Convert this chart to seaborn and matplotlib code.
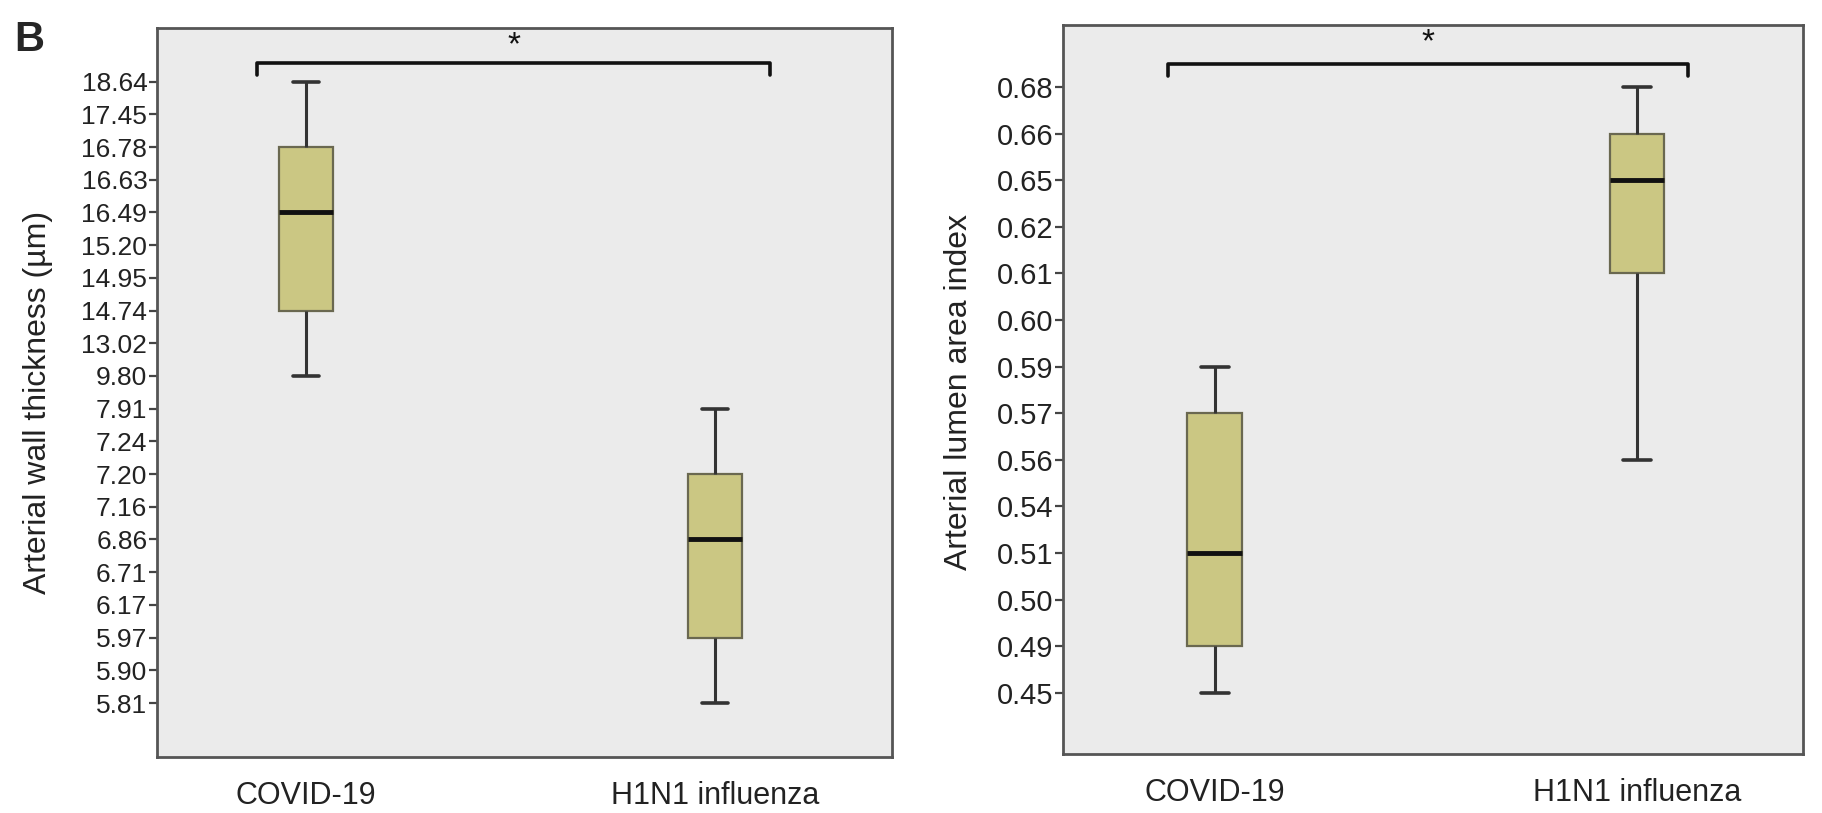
import numpy as np
import pandas as pd
import matplotlib
matplotlib.use("Agg")
import matplotlib.pyplot as plt
import seaborn as sns

# groups
groups = ["COVID-19", "H1N1 influenza"]

# left panel: y axis is ordinal (SPSS style), labels from bottom to top
wall_ticks = [5.81, 5.90, 5.97, 6.17, 6.71, 6.86, 7.16, 7.20, 7.24, 7.91,
              9.80, 13.02, 14.74, 14.95, 15.20, 16.49, 16.63, 16.78, 17.45, 18.64]
# min, Q1, median, Q3, max
wall_covid = [9.80, 14.74, 16.49, 16.78, 18.64]
wall_h1n1 = [5.81, 5.97, 6.86, 7.20, 7.91]

# right panel
lumen_ticks = [0.45, 0.49, 0.50, 0.51, 0.54, 0.56, 0.57, 0.59, 0.60, 0.61,
               0.62, 0.65, 0.66, 0.68]
lumen_covid = [0.45, 0.49, 0.51, 0.57, 0.59]
lumen_h1n1 = [0.56, 0.61, 0.65, 0.66, 0.68]

fill = "#CBC783"
edge = "#6A6850"
bg = "#EBEBEB"

sns.set_style("white")
plt.rcParams["font.family"] = ["Liberation Sans", "DejaVu Sans"]


def to_rank(vals, ticks):
    return [int(np.argmin(np.abs(np.array(ticks) - v))) for v in vals]


def make_df(a, b, ticks):
    ra = to_rank(a, ticks)
    rb = to_rank(b, ticks)
    return pd.DataFrame({"group": [groups[0]] * len(ra) + [groups[1]] * len(rb),
                         "rank": ra + rb})


fig = plt.figure(figsize=(18.22, 8.13), dpi=100)
ax1 = fig.add_axes([0.0862, 0.0689, 0.4034, 0.8967])
ax2 = fig.add_axes([0.5834, 0.0726, 0.4061, 0.8967])

panels = [
    (ax1, make_df(wall_covid, wall_h1n1, wall_ticks), wall_ticks,
     "Arterial wall thickness (µm)", (-1.65, 20.64), (-0.364, 1.433), 19,
     (-0.141, 0.487), (-0.12, 1.135), 0.952, 0.936),
    (ax2, make_df(lumen_covid, lumen_h1n1, lumen_ticks), lumen_ticks,
     "Arterial lumen area index", (-1.31, 14.33), (-0.360, 1.393), 21,
     (-0.12, 0.497), (-0.11, 1.12), 0.946, 0.930),
]

for ax, df, ticks, ylab, ylim, xlim, tfs, lab_xy, brx, bry, bry2 in panels:
    sns.boxplot(data=df, x="group", y="rank", order=groups, ax=ax,
                width=0.13, whis=(0, 100), color=fill, saturation=1,
                linecolor=edge, linewidth=1.6, capwidths=0.065,
                boxprops=dict(edgecolor=edge, linewidth=1.6),
                whiskerprops=dict(color="#333333", linewidth=2.2),
                capprops=dict(color="#333333", linewidth=2.6),
                medianprops=dict(color="#111111", linewidth=3.5))
    ax.set_facecolor(bg)
    ax.set_ylim(*ylim)
    ax.set_xlim(*xlim)
    ax.set_yticks(range(len(ticks)))
    ax.set_yticklabels([f"{t:.2f}" for t in ticks], fontsize=tfs, color="#222222")
    ax.tick_params(axis="y", length=6, width=1.6, color="#444444", pad=1, left=True)
    ax.tick_params(axis="x", length=0, pad=17, labelsize=22, labelcolor="#222222")
    ax.set_xlabel("")
    ax.set_ylabel(ylab, fontsize=23, color="#222222")
    ax.yaxis.set_label_coords(*lab_xy)
    for s in ax.spines.values():
        s.set_color("#555555")
        s.set_linewidth(2)
    # significance bracket
    tr = ax.get_xaxis_transform()
    ax.plot([brx[0], brx[0], brx[1], brx[1]], [bry2, bry, bry, bry2],
            color="#111111", lw=2.6, transform=tr, clip_on=False)
    ax.text(np.mean(brx), 0.975, "*", transform=tr, ha="center", va="center",
            fontsize=24, color="#111111")

fig.text(0.008, 0.975, "B", fontsize=30, fontweight="bold", va="top", ha="left")

fig.savefig("out.png", dpi=100)
